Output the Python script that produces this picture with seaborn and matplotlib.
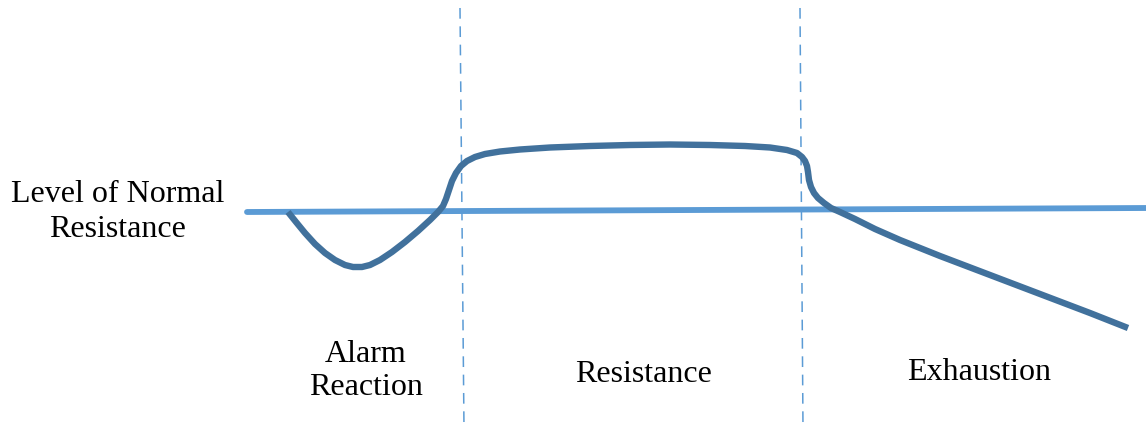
import matplotlib
matplotlib.use("Agg")
import matplotlib.pyplot as plt
import numpy as np
import pandas as pd
import seaborn as sns

# resistance curve (x along time, y downward = lower resistance)
curve_x = [288, 296, 305, 315, 325, 335, 345, 353, 362, 370, 380, 392, 405, 418, 430, 438,
           443, 446, 449, 452, 456, 461, 467, 475, 485, 500, 520, 550, 590, 630, 670,
           710, 745, 770, 787, 797, 802, 805, 807, 808, 809, 811, 814, 818, 824, 831,
           840, 855, 875, 900, 940, 990, 1040, 1090, 1128]
curve_y = [212, 222, 233, 244, 253, 260, 265, 267, 267, 265, 260, 252, 242, 231, 220, 212,
           206, 199, 190, 181, 173, 166, 161, 157, 154, 151.5, 149.5, 147.5, 146, 145, 144.5,
           145, 146, 147.5, 150, 153, 157, 161, 166, 172, 180, 187, 193, 198, 203, 208,
           212, 219, 229, 240, 256, 275, 294, 313, 328]

# normal resistance line
normal_x = [247, 1146]
normal_y = [212, 208]

# stage boundaries (top, bottom)
bound1_x = [460, 464]
bound2_x = [800, 803]
bound_y = [8, 429]

stage_labels = ["Alarm\nReaction", "Resistance", "Exhaustion"]
stage_x = [366, 643, 979]
stage_y = [371, 374, 372]

sns.set_theme(style="white")
plt.rcParams["font.family"] = ["Liberation Serif", "DejaVu Serif"]

fig = plt.figure(figsize=(11.46, 4.29), dpi=100)
ax = fig.add_axes([0, 0, 1, 1])

line_light = "#5b9bd5"
line_dark = "#41719c"

sns.lineplot(x=bound1_x, y=bound_y, ax=ax, color=line_light, lw=1.1,
             linestyle=(0, (7, 5)), sort=False, estimator=None)
sns.lineplot(x=bound2_x, y=bound_y, ax=ax, color=line_light, lw=1.1,
             linestyle=(0, (7, 5)), sort=False, estimator=None)
sns.lineplot(x=normal_x, y=normal_y, ax=ax, color=line_light, lw=4.2,
             sort=False, estimator=None)
sns.lineplot(x=curve_x, y=curve_y, ax=ax, color=line_dark, lw=4.6,
             sort=False, estimator=None, solid_joinstyle="round",
             solid_capstyle="butt")

ax.text(118, 212, "Level of Normal\nResistance", ha="center", va="center",
        fontsize=23, linespacing=1.27, color="black")
for lab, x, y in zip(stage_labels, stage_x, stage_y):
    ax.text(x, y, lab, ha="center", va="center", fontsize=23,
            linespacing=1.22, color="black")

ax.set_xlim(0, 1146)
ax.set_ylim(429, 0)
ax.axis("off")

fig.savefig("out.png", dpi=100, facecolor="white")
